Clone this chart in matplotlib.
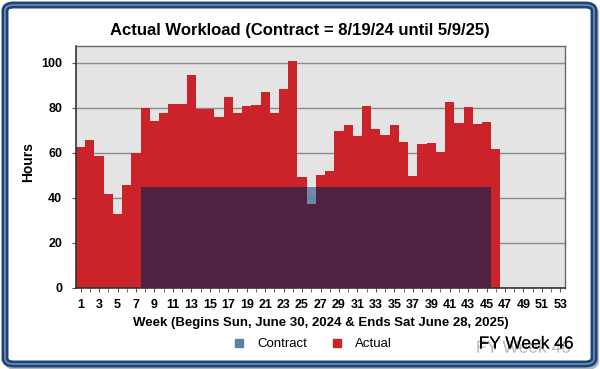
import matplotlib
matplotlib.use("Agg")
import matplotlib.pyplot as plt
import numpy as np
from matplotlib.patches import FancyBboxPatch
from matplotlib.lines import Line2D
import matplotlib.patheffects as pe

plt.rcParams['font.family'] = ['Liberation Sans', 'DejaVu Sans']

weeks = list(range(1, 54))
actual = [62.5, 65.9, 58.5, 41.9, 33.0, 45.6, 60.0, 80.0, 74.1, 77.6,
          81.6, 81.6, 94.5, 79.6, 79.3, 76.0, 85.0, 77.9, 80.9, 81.5,
          87.1, 77.9, 88.6, 100.9, 49.1, 37.5, 50.0, 52.0, 69.6, 72.5,
          67.6, 80.9, 70.5, 68.0, 72.5, 65.0, 49.6, 63.9, 64.6, 60.2,
          82.5, 73.2, 80.5, 73.0, 73.6, 61.6] + [0] * 7
contract = [0] * 7 + [45] * 38 + [0] * 8
xtick_labels = [str(w) for w in range(1, 54, 2)]
title = "Actual Workload (Contract = 8/19/24 until 5/9/25)"
xlabel = "Week (Begins Sun, June 30, 2024 & Ends Sat June 28, 2025)"

RED = "#cc2229"
PURPLE = "#4f2241"
SLATE = "#5f80a3"

fig = plt.figure(figsize=(6, 3.69), dpi=100)
fig.patch.set_facecolor("white")

# frame border
W, H = 600, 369
shadow = FancyBboxPatch((7 / W, 2 / H), 589 / W, 360 / H,
                        boxstyle="round,pad=0,rounding_size=0.015",
                        transform=fig.transFigure, facecolor="none",
                        edgecolor="#a9b4c2", lw=4, zorder=-3)
fig.patches.append(shadow)
border = FancyBboxPatch((5 / W, 5 / H), 589 / W, 359 / H,
                        boxstyle="round,pad=0,rounding_size=0.015",
                        transform=fig.transFigure, facecolor="white",
                        edgecolor="#1f4373", lw=5, zorder=-2)
fig.patches.append(border)
inner = FancyBboxPatch((5 / W, 5 / H), 589 / W, 359 / H,
                       boxstyle="round,pad=0,rounding_size=0.015",
                       transform=fig.transFigure, facecolor="none",
                       edgecolor="#6f8fba", lw=1.2, zorder=-1)
fig.patches.append(inner)

ax = fig.add_axes([76 / W, 1 - 288 / H, (565 - 76) / W, (288 - 46) / H])
ax.set_zorder(1)
ax.set_facecolor("#e4e4e4")

x = np.array(weeks)
a = np.array(actual, dtype=float)
c = np.array(contract, dtype=float)
overlap = np.minimum(a, c)
excess = np.clip(c - a, 0, None)

ax.bar(x, a, width=1.0, color=RED, lw=0, zorder=2)
ax.bar(x, overlap, width=1.0, color=PURPLE, lw=0, zorder=3)
ax.bar(x, excess, bottom=a, width=1.0, color=SLATE, alpha=0.9, lw=0, zorder=3)

ax.set_xlim(0.5, 53.5)
ax.set_ylim(0, 107.5)
ax.set_yticks([0, 20, 40, 60, 80, 100])
ax.yaxis.grid(True, color="#8a8a8a", lw=1)
ax.set_axisbelow(True)
ax.set_xticks(range(1, 54, 2))
ax.set_xticklabels(xtick_labels)
ax.set_xticks(range(1, 54), minor=True)

for lab in ax.get_xticklabels() + ax.get_yticklabels():
    lab.set_fontweight("bold")
    lab.set_fontsize(9)
ax.tick_params(axis="x", which="both", length=3, color="#555555", pad=5)
ax.tick_params(axis="y", length=3, color="#555555", pad=7)

for s in ["left", "bottom"]:
    ax.spines[s].set_color("#333333")
    ax.spines[s].set_linewidth(1.2)
for s in ["top", "right"]:
    ax.spines[s].set_color("#666666")
    ax.spines[s].set_linewidth(1)

ax.set_ylabel("Hours", fontsize=10, fontweight="bold")
ax.yaxis.set_label_coords((35 - 76) / 489, 0.52)
ax.set_xlabel(xlabel, fontsize=9.5, fontweight="bold", labelpad=4)

fig.text(0.5, 1 - 30 / H, title, ha="center", va="center",
         fontsize=12, fontweight="bold")

handles = [Line2D([], [], marker="s", ls="none", color=SLATE, markersize=6),
           Line2D([], [], marker="s", ls="none", color=RED, markersize=6)]
fig.legend(handles, ["Contract", "Actual"], loc="center",
           bbox_to_anchor=(309 / W, 1 - 344 / H), ncol=2, frameon=False,
           fontsize=9.5, handletextpad=0.4, columnspacing=1.2)

fig.text(526 / W, 1 - 344 / H, "FY Week 46", ha="center", va="center",
         fontsize=12.5, color="black",
         path_effects=[pe.withSimplePatchShadow(offset=(-2, -3), shadow_rgbFace="#666666", alpha=0.45),
                       pe.Normal()])

fig.savefig("out.png", dpi=100)
